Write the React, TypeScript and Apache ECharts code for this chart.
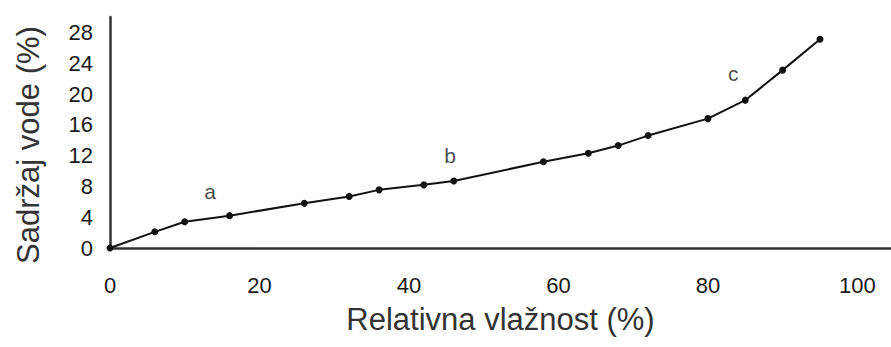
import React, { useEffect, useRef } from "react";
import * as echarts from "echarts";

const humidity = [0, 6, 10, 16, 26, 32, 36, 42, 46, 58, 64, 68, 72, 80, 85, 90, 95];
const waterContent = [0, 2.1, 3.4, 4.2, 5.8, 6.7, 7.55, 8.2, 8.7, 11.2, 12.3, 13.3, 14.6, 16.8, 19.2, 23.1, 27.1];
const zoneLabels = ["a", "b", "c"];
const zoneX = [13.4, 45.5, 83.4];
const zoneY = [7.3, 12.0, 22.7];
const xTitle = "Relativna vlažnost (%)";
const yTitle = "Sadržaj vode (%)";

const FONT = "'Liberation Sans', Arial, sans-serif";

export default function App() {
  const ref = useRef<HTMLDivElement>(null);
  useEffect(() => {
    const chart = echarts.init(ref.current!, null, { renderer: "svg" });
    chart.setOption({
      animation: false,
      backgroundColor: "#ffffff",
      textStyle: { fontFamily: FONT },
      grid: { left: 110, right: 0, top: 17, bottom: 99 },
      xAxis: {
        type: "value",
        min: 0,
        max: 104.5,
        interval: 20,
        name: xTitle,
        nameLocation: "middle",
        nameGap: 56,
        nameTextStyle: { fontSize: 31, color: "#333", fontFamily: FONT },
        axisLine: { lineStyle: { color: "#333", width: 2.5 } },
        axisTick: { show: false },
        splitLine: { show: false },
        axisLabel: { fontSize: 22, color: "#1a1a1a", margin: 26, showMaxLabel: false, fontFamily: FONT },
      },
      yAxis: {
        type: "value",
        min: 0,
        max: 30,
        interval: 4,
        axisLine: { show: true, lineStyle: { color: "#333", width: 2.5 } },
        axisTick: { show: false },
        splitLine: { show: false },
        axisLabel: { fontSize: 22, color: "#1a1a1a", margin: 17, showMaxLabel: false, fontFamily: FONT },
      },
      graphic: [
        {
          type: "text",
          x: 28,
          y: 145,
          rotation: Math.PI / 2,
          style: {
            text: yTitle,
            fontSize: 31,
            fill: "#333",
            fontFamily: FONT,
            align: "center",
            verticalAlign: "middle",
          },
        },
      ],
      series: [
        {
          type: "line",
          data: humidity.map((h, i) => [h, waterContent[i]]),
          symbol: "circle",
          symbolSize: 7,
          showAllSymbol: true,
          lineStyle: { color: "#111", width: 2 },
          itemStyle: { color: "#111" },
          smooth: false,
        },
        {
          type: "scatter",
          data: zoneLabels.map((n, i) => ({ name: n, value: [zoneX[i], zoneY[i]] })),
          symbolSize: 0,
          label: {
            show: true,
            position: "inside",
            formatter: "{b}",
            fontSize: 21,
            color: "#1a1a1a",
            fontFamily: FONT,
          },
        },
      ],
    });
    return () => chart.dispose();
  }, []);
  return <div ref={ref} style={{ width: 891, height: 347, position: "absolute", left: 0, top: 0 }} />;
}
